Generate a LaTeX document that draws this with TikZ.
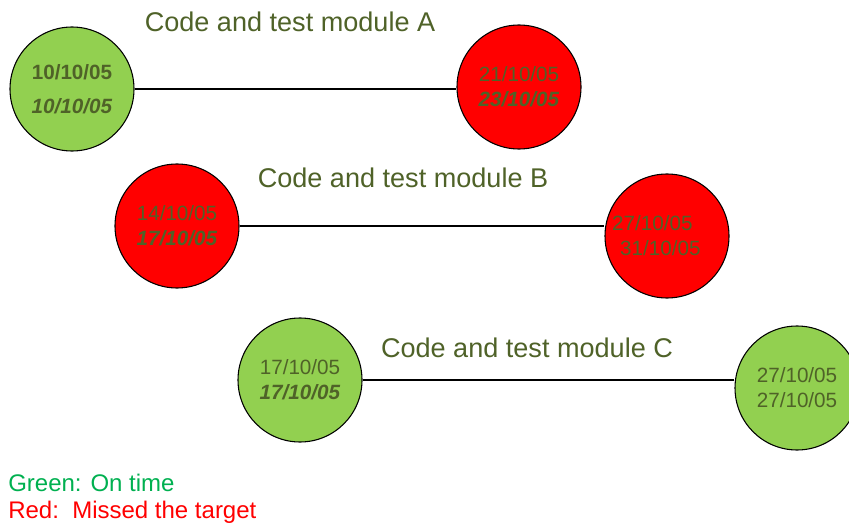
\documentclass[tikz,border=0pt]{standalone}
\usepackage{fontspec}
\setmainfont{Liberation Sans}
\usetikzlibrary{positioning}
\definecolor{ontime}{RGB}{146,208,80}
\definecolor{missed}{RGB}{255,0,0}
\definecolor{olivetext}{RGB}{79,98,40}
\definecolor{legendgreen}{RGB}{0,176,80}

\begin{document}
\begin{tikzpicture}[
    x=0.75pt, y=-0.75pt,
    milestone/.style={circle, draw=black, line width=0.8pt, minimum size=93pt,
        inner sep=0pt, align=center, text=olivetext, font=\fontsize{15.5}{18.6}\selectfont},
    late/.style={milestone, fill=missed},
    done/.style={milestone, fill=ontime},
    task/.style={text=olivetext, font=\fontsize{20.3}{24}\selectfont},
    legend/.style={anchor=west, inner sep=0pt, font=\fontsize{18}{21}\selectfont},
    every edge/.append style={line width=0.8pt}
]
   \clip (0,0) rectangle (849,524);

   % Milestones
   \node[done] (A1) at (72,89) {\textbf{10/10/05}\\[7pt]\textbf{\textit{10/10/05}}};
   \node[late] (A2) at (519,87) {21/10/05\\\textbf{\textit{23/10/05}}};
   \node[late] (B1) at (177,226) {14/10/05\\\textbf{\textit{17/10/05}}};
   \node[late] (B2) at (667,236) {27/10/05\hspace*{22pt}\\31/10/05\hspace*{10pt}};
   \node[done] (C1) at (300,380) {17/10/05\\\textbf{\textit{17/10/05}}};
   \node[done] (C2) at (797,388) {27/10/05\\27/10/05};

   % Tasks
   \node[task] (tA) at (290,22) {Code and test module A};
   \node[task] (tB) at (403,178) {Code and test module B};
   \node[task] (tC) at (527,348) {Code and test module C};

   \path
   (A1.east) edge (A1.east -| A2.west)
   (B1.east) edge (B1.east -| B2.west)
   (C1.east) edge (C1.east -| C2.west);

   % Key
   \node[legend, text=legendgreen] (kGreen) at (8,483) {Green: On time};
   \node[legend, text=missed] (kRed) at (8,512) {Red:\ \ Missed the target};

\end{tikzpicture}
\end{document}
